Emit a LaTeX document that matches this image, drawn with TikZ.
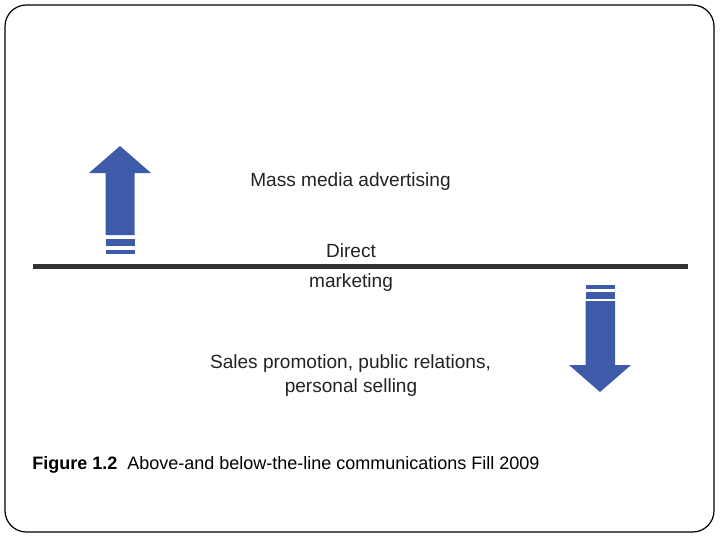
\documentclass[tikz,border=0pt]{standalone}
\usepackage{fontspec}
\setmainfont{Liberation Sans}
\usepackage{tikz}
\usepackage{xcolor}
\usetikzlibrary{positioning}
\definecolor{ArrowBlue}{HTML}{3D5BA8}
\definecolor{LineGrey}{HTML}{333333}
\definecolor{TextGrey}{HTML}{222222}
\tikzset{
    % Text styles
    labeltext/.style={
        anchor=base,
        inner sep=0pt,
        text=TextGrey,
        font=\fontsize{14.3}{17}\selectfont
    },
    captiontext/.style={
        anchor=base west,
        inner sep=0pt,
        text=black,
        font=\fontsize{13.5}{16}\selectfont
    },
    % Shape styles
    arrowfill/.style={
        fill=ArrowBlue
    },
    divider/.style={
        draw=LineGrey,
        line width=3.6pt
    },
    frame/.style={
        draw=black,
        line width=0.9pt,
        rounded corners=16pt
    }
}

\begin{document}
\begin{tikzpicture}[x=0.75pt,y=-0.75pt]
            \useasboundingbox (0,0) rectangle (720,540);
            % Frame
            \draw[frame] (5,5) rectangle (714,532);

            % Dividing line
            \coordinate (lineW) at (33,266.5);
            \coordinate (lineE) at (688,266.5);
            \draw[divider] (lineW) -- (lineE);

            % Up arrow
            \fill[arrowfill] (120,146) -- (151,173) -- (134.5,173) -- (134.5,235)
                -- (105.5,235) -- (105.5,173) -- (89,173) -- cycle;
            \fill[arrowfill] (105.5,239) rectangle (134.5,246);
            \fill[arrowfill] (105.5,250) rectangle (134.5,253.5);

            % Down arrow
            \fill[arrowfill] (600,392) -- (631,365) -- (615,365) -- (615,301)
                -- (585.5,301) -- (585.5,365) -- (569,365) -- cycle;
            \fill[arrowfill] (585.5,292) rectangle (615,299);
            \fill[arrowfill] (585.5,285) rectangle (615,288.5);

            % Labels
            \node[labeltext] (mass) at (350.5,186.5) {Mass media advertising};
            \node[labeltext] (direct) at (351,257.3) {Direct};
            \node[labeltext] (marketing) at (351,287.5) {marketing};
            \node[labeltext] (sales) at (350.5,368.5) {Sales promotion, public relations,};
            \node[labeltext] (personal) at (351,392) {personal selling};

            % Caption
            \node[captiontext] (caption) at (32,469) {\textbf{Figure 1.2}\ \ Above-and below-the-line communications Fill 2009};
        \end{tikzpicture}
\end{document}
